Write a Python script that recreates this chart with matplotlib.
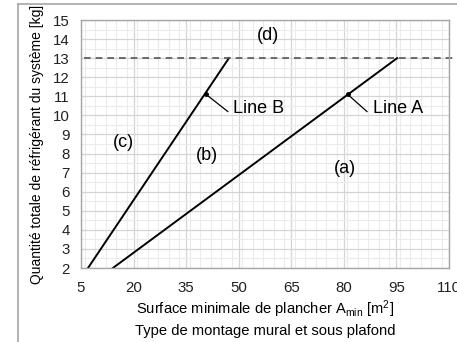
import matplotlib
matplotlib.use("Agg")
import matplotlib.pyplot as plt
from matplotlib.lines import Line2D
from matplotlib.ticker import MultipleLocator

plt.rcParams['font.family'] = ['Liberation Sans', 'DejaVu Sans']
plt.rcParams['mathtext.fontset'] = 'custom'
plt.rcParams['mathtext.rm'] = 'Liberation Sans'
plt.rcParams['mathtext.it'] = 'Liberation Sans'

# Data
line_a_x = [14.1, 95.2]
line_a_y = [2, 13]
line_b_x = [7.0, 47.2]
line_b_y = [2, 13]
marker_a = (81.1, 11.1)
marker_b = (40.7, 11.1)
leader_a_end = (86.6, 10.2)
leader_b_end = (46.9, 10.2)
label_a_pos = (88.3, 10.35)
label_b_pos = (48.4, 10.35)
limit_y = 13
x_ticks = [5, 20, 35, 50, 65, 80, 95, 110]
y_ticks = list(range(2, 16))
region_labels = {'(a)': (80.3, 7.2), '(b)': (41, 7.9), '(c)': (17, 8.6), '(d)': (58.4, 14.2)}

fig = plt.figure(figsize=(4.57, 3.42), dpi=100)
ax = fig.add_axes([81/457, 1-268/342, (449-81)/457, (268-20)/342])

ax.set_xlim(5, 110)
ax.set_ylim(2, 15)
ax.set_xticks(x_ticks)
ax.set_yticks(y_ticks)
ax.xaxis.set_minor_locator(MultipleLocator(3))
ax.yaxis.set_minor_locator(MultipleLocator(0.5))
ax.grid(which='minor', color='#ebebeb', lw=0.8)
ax.grid(which='major', color='#d4d4d4', lw=0.9)
ax.set_axisbelow(True)
ax.tick_params(which='both', length=0, labelsize=10.8, colors='#222222')
ax.tick_params(axis='x', pad=9)
ax.tick_params(axis='y', pad=8)
for s in ax.spines.values():
    s.set_color('#a6a6a6')
    s.set_linewidth(1.0)

ax.plot(line_a_x, line_a_y, color='black', lw=1.4)
ax.plot(line_b_x, line_b_y, color='black', lw=1.4)
ax.plot([5.8, 112.5], [limit_y, limit_y], color='#555555', lw=1.2, ls=(0, (4, 3)), clip_on=False)

ax.plot([marker_a[0], leader_a_end[0]], [marker_a[1], leader_a_end[1]], color='black', lw=0.9)
ax.plot([marker_b[0], leader_b_end[0]], [marker_b[1], leader_b_end[1]], color='black', lw=0.9)
ax.plot(*marker_a, 'o', color='black', ms=2.5)
ax.plot(*marker_b, 'o', color='black', ms=2.5)
ax.text(*label_a_pos, 'Line A', fontsize=13, ha='left', va='center')
ax.text(*label_b_pos, 'Line B', fontsize=13, ha='left', va='center')

for t, (x, y) in region_labels.items():
    ax.text(x, y, t, fontsize=13, ha='center', va='center')

fig.text(265/457, 1-309/342, 'Surface minimale de plancher A$_{\\mathrm{min}}$ [m$^{2}$]',
         ha='center', va='center', fontsize=10.6)
fig.text(265/457, 1-331/342, 'Type de montage mural et sous plafond',
         ha='center', va='center', fontsize=10.6)
fig.text(37/457, 1-144/342, 'Quantité totale de réfrigérant du système [kg]',
         rotation=90, ha='center', va='center', fontsize=10)

# outer frame
fig.add_artist(Line2D([18/457, 18/457], [0, 1-4/342], color='#a6a6a6', lw=1.2))
fig.add_artist(Line2D([18/457, 1], [1-4/342, 1-4/342], color='#a6a6a6', lw=1.2))

fig.savefig('out.png', dpi=100)
